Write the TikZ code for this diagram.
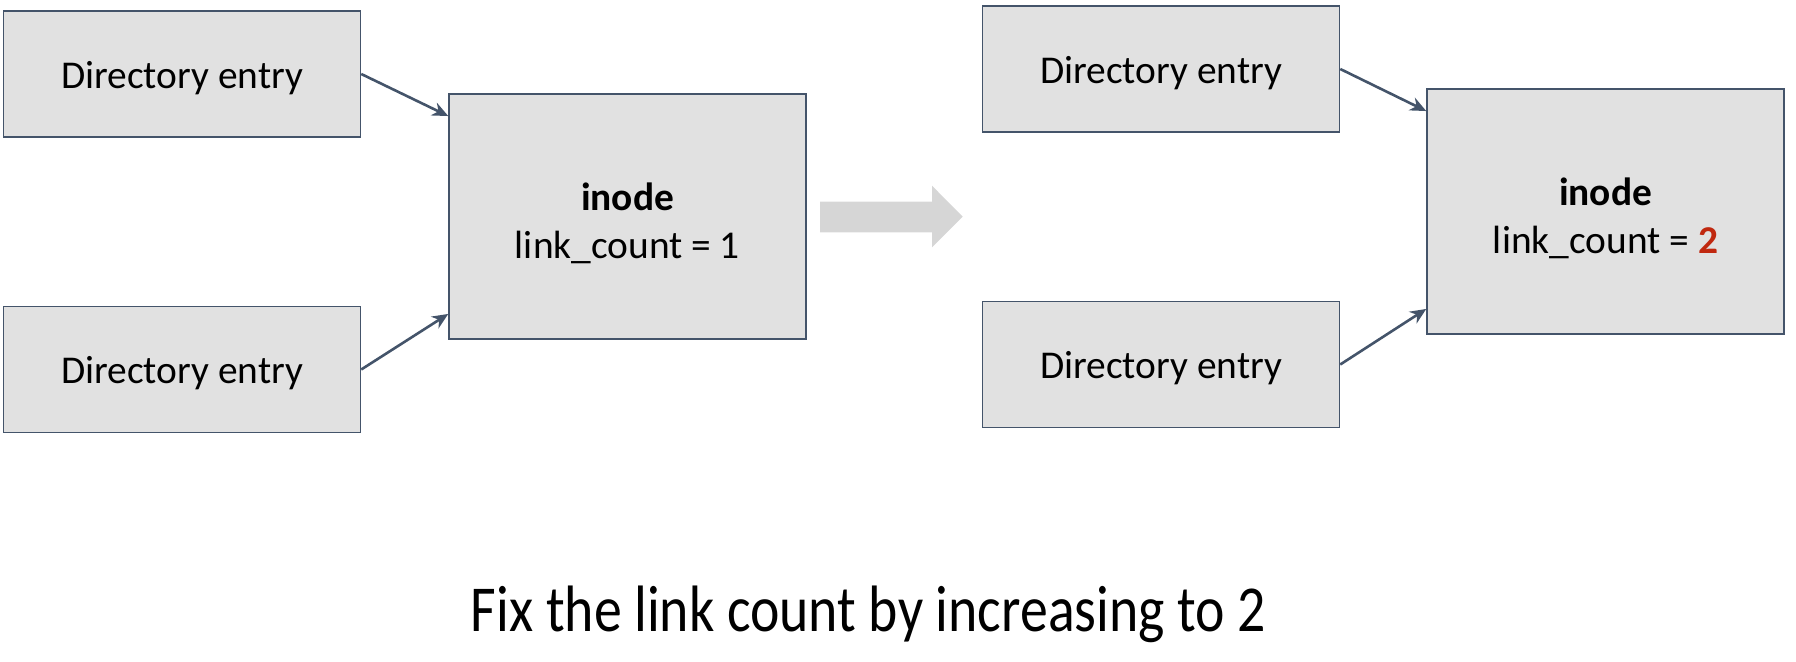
\documentclass[tikz,border=0pt]{standalone}
\usepackage{fontspec}
\setmainfont{Carlito}
\newfontfamily\capfont[FakeStretch=0.85]{Carlito}
\usepackage{tikz}
\usetikzlibrary{arrows.meta, positioning}
\usepackage{xcolor}
\definecolor{mSlate}{HTML}{44546A}
\definecolor{mBoxGray}{HTML}{E1E1E1}
\definecolor{mArrowGray}{HTML}{D6D6D6}
\definecolor{mRed}{HTML}{C0280F}

\tikzset{
  entrybox/.style={draw=mSlate, line width=0.75pt, fill=mBoxGray, minimum width=178.5pt, minimum height=63pt, inner sep=0pt, font=\fontsize{19.7}{24}\selectfont, text height=14.5pt, text depth=0pt},
  inodebox/.style={draw=mSlate, line width=0.75pt, fill=mBoxGray, minimum width=178.5pt, minimum height=122.5pt, inner sep=0pt, font=\fontsize{19.7}{24}\selectfont, align=center},
  link/.style={->, draw=mSlate, line width=1.3pt}
}

\begin{document}
\begin{tikzpicture}[>={Stealth[length=8pt,width=7pt]}, x=0.5pt, y=-0.5pt]
  \useasboundingbox (0,0) rectangle (1796,662);
  % before
  \node[entrybox] (dirA) at (182,74) {Directory entry};
  \node[entrybox] (dirB) at (182,369.5) {Directory entry};
  \node[inodebox] (inodeA) at (627.5,216.7) {\rule{0pt}{20.5pt}\textbf{inode}\\link\_count = 1};
  \draw[link] (dirA.east) -- ([yshift=-11.3pt]inodeA.north west);
  \draw[link] (dirB.east) -- ([yshift=13pt]inodeA.south west);
  % big arrow
  \fill[mArrowGray] (820,201.7) -- (932,201.7) -- (932,185.7) -- (962.7,216.7) -- (932,247.3) -- (932,232.3) -- (820,232.3) -- cycle;
  % after
  \node[entrybox] (dirC) at (1161,69) {Directory entry};
  \node[entrybox] (dirD) at (1161,364.5) {Directory entry};
  \node[inodebox] (inodeB) at (1605.5,211.7) {\rule{0pt}{20.5pt}\textbf{inode}\\link\_count = \textbf{\textcolor{mRed}{2}}};
  \draw[link] (dirC.east) -- ([yshift=-11.3pt]inodeB.north west);
  \draw[link] (dirD.east) -- ([yshift=13pt]inodeB.south west);
  % caption
  \node[anchor=base, font=\capfont\fontsize{32.8}{40}\selectfont] (caption) at (868.5,632) {Fix the link count by increasing to 2};
\end{tikzpicture}
\end{document}
